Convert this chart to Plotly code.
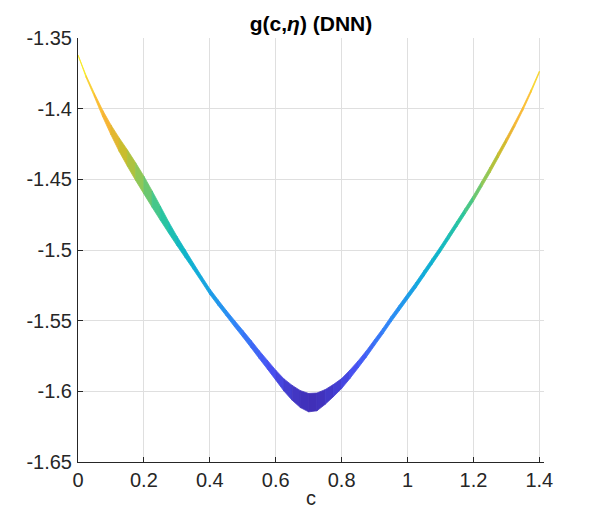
import plotly.graph_objects as go
from plotly.colors import sample_colorscale

# c grid and the upper / lower edge of the g(c, eta) band
c_vals = [0.000, 0.025, 0.050, 0.075, 0.100, 0.125, 0.150, 0.175, 0.200, 0.225,
          0.250, 0.275, 0.300, 0.325, 0.350, 0.375, 0.400, 0.425, 0.450, 0.475,
          0.500, 0.525, 0.550, 0.575, 0.600, 0.625, 0.650, 0.675, 0.700, 0.725,
          0.750, 0.775, 0.800, 0.825, 0.850, 0.875, 0.900, 0.925, 0.950, 0.975,
          1.000, 1.025, 1.050, 1.075, 1.100, 1.125, 1.150, 1.175, 1.200, 1.225,
          1.250, 1.275, 1.300, 1.325, 1.350, 1.375, 1.400]

g_upper = [-1.3620, -1.3767, -1.3893, -1.4012, -1.4115, -1.4207, -1.4292, -1.4383, -1.4478, -1.4582,
           -1.4690, -1.4800, -1.4902, -1.4997, -1.5092, -1.5185, -1.5275, -1.5352, -1.5427, -1.5498,
           -1.5568, -1.5639, -1.5712, -1.5781, -1.5850, -1.5912, -1.5958, -1.5995, -1.6015, -1.6012,
           -1.5988, -1.5952, -1.5910, -1.5850, -1.5785, -1.5713, -1.5634, -1.5555, -1.5470, -1.5390,
           -1.5310, -1.5230, -1.5145, -1.5060, -1.4975, -1.4885, -1.4795, -1.4705, -1.4615, -1.4515,
           -1.4415, -1.4311, -1.4208, -1.4100, -1.3988, -1.3866, -1.3735]

g_lower = [-1.3630, -1.3782, -1.3917, -1.4058, -1.4185, -1.4303, -1.4408, -1.4508, -1.4603, -1.4698,
           -1.4790, -1.4880, -1.4968, -1.5053, -1.5138, -1.5225, -1.5315, -1.5392, -1.5467, -1.5543,
           -1.5616, -1.5691, -1.5768, -1.5843, -1.5920, -1.5998, -1.6063, -1.6115, -1.6145, -1.6138,
           -1.6092, -1.6038, -1.5980, -1.5910, -1.5835, -1.5758, -1.5676, -1.5595, -1.5510, -1.5430,
           -1.5350, -1.5270, -1.5185, -1.5100, -1.5015, -1.4925, -1.4835, -1.4745, -1.4655, -1.4555,
           -1.4455, -1.4349, -1.4242, -1.4130, -1.4012, -1.3884, -1.3745]

x_ticks = [0, 0.2, 0.4, 0.6, 0.8, 1.0, 1.2, 1.4]
x_tick_text = ["0", "0.2", "0.4", "0.6", "0.8", "1", "1.2", "1.4"]
y_ticks = [-1.65, -1.6, -1.55, -1.5, -1.45, -1.4, -1.35]
y_tick_text = ["-1.65", "-1.6", "-1.55", "-1.5", "-1.45", "-1.4", "-1.35"]

# parula-like colormap
parula = [
    [0.000, "rgb(62,38,168)"],
    [0.125, "rgb(72,82,244)"],
    [0.250, "rgb(46,135,247)"],
    [0.375, "rgb(18,170,220)"],
    [0.450, "rgb(15,182,200)"],
    [0.550, "rgb(45,198,155)"],
    [0.650, "rgb(140,200,90)"],
    [0.720, "rgb(195,190,45)"],
    [0.800, "rgb(245,178,52)"],
    [0.880, "rgb(252,192,50)"],
    [0.950, "rgb(245,222,40)"],
    [1.000, "rgb(249,251,14)"],
]

gmin = min(g_lower)
gmax = max(g_upper)

fig = go.Figure()

# band drawn as coloured quads, one per c interval
for i in range(len(c_vals) - 1):
    xs = [c_vals[i], c_vals[i + 1], c_vals[i + 1], c_vals[i], c_vals[i]]
    ys = [g_upper[i], g_upper[i + 1], g_lower[i + 1], g_lower[i], g_upper[i]]
    mid = (g_upper[i] + g_upper[i + 1] + g_lower[i] + g_lower[i + 1]) / 4
    col = sample_colorscale(parula, [(mid - gmin) / (gmax - gmin)])[0]
    fig.add_trace(go.Scatter(
        x=xs, y=ys,
        mode='lines',
        fill='toself',
        fillcolor=col,
        line=dict(color=col, width=0.8),
        hoverinfo='skip',
        showlegend=False
    ))

font_name = "Liberation Sans, Arial, Helvetica, sans-serif"
axis_font = dict(family=font_name, size=20, color="#262626")

fig.update_layout(
    width=601,
    height=519,
    plot_bgcolor="white",
    paper_bgcolor="white",
    margin=dict(l=78, r=57, t=38, b=57),
    showlegend=False,
    title=dict(
        text="<b>g(c,<i>η</i>) (DNN)</b>",
        font=dict(family=font_name, size=21, color="black"),
        x=0.5, xref='paper', xanchor='center',
        y=1 - 24 / 519, yref='container', yanchor='middle'
    ),
    xaxis=dict(
        range=[0, 1.4142],
        tickvals=x_ticks,
        ticktext=x_tick_text,
        ticks='inside',
        ticklen=5,
        tickcolor="#262626",
        showline=True,
        linecolor="#262626",
        linewidth=1,
        showgrid=True,
        gridcolor="#dfdfdf",
        zeroline=False,
        automargin=False,
        tickfont=axis_font,
        ticklabelstandoff=0,
        title=dict(text="c", font=axis_font, standoff=0)
    ),
    yaxis=dict(
        range=[-1.65, -1.35],
        tickvals=y_ticks,
        ticktext=y_tick_text,
        ticks='inside',
        ticklen=5,
        tickcolor="#262626",
        showline=True,
        linecolor="#262626",
        linewidth=1,
        showgrid=True,
        gridcolor="#dfdfdf",
        zeroline=False,
        automargin=False,
        tickfont=axis_font,
        ticklabelstandoff=1
    )
)

# page body has a default 8px margin; drop it so the figure sits at the corner
fig.write_html("out.html", config={"displayModeBar": False},
               post_script="document.body.style.margin='0';")
